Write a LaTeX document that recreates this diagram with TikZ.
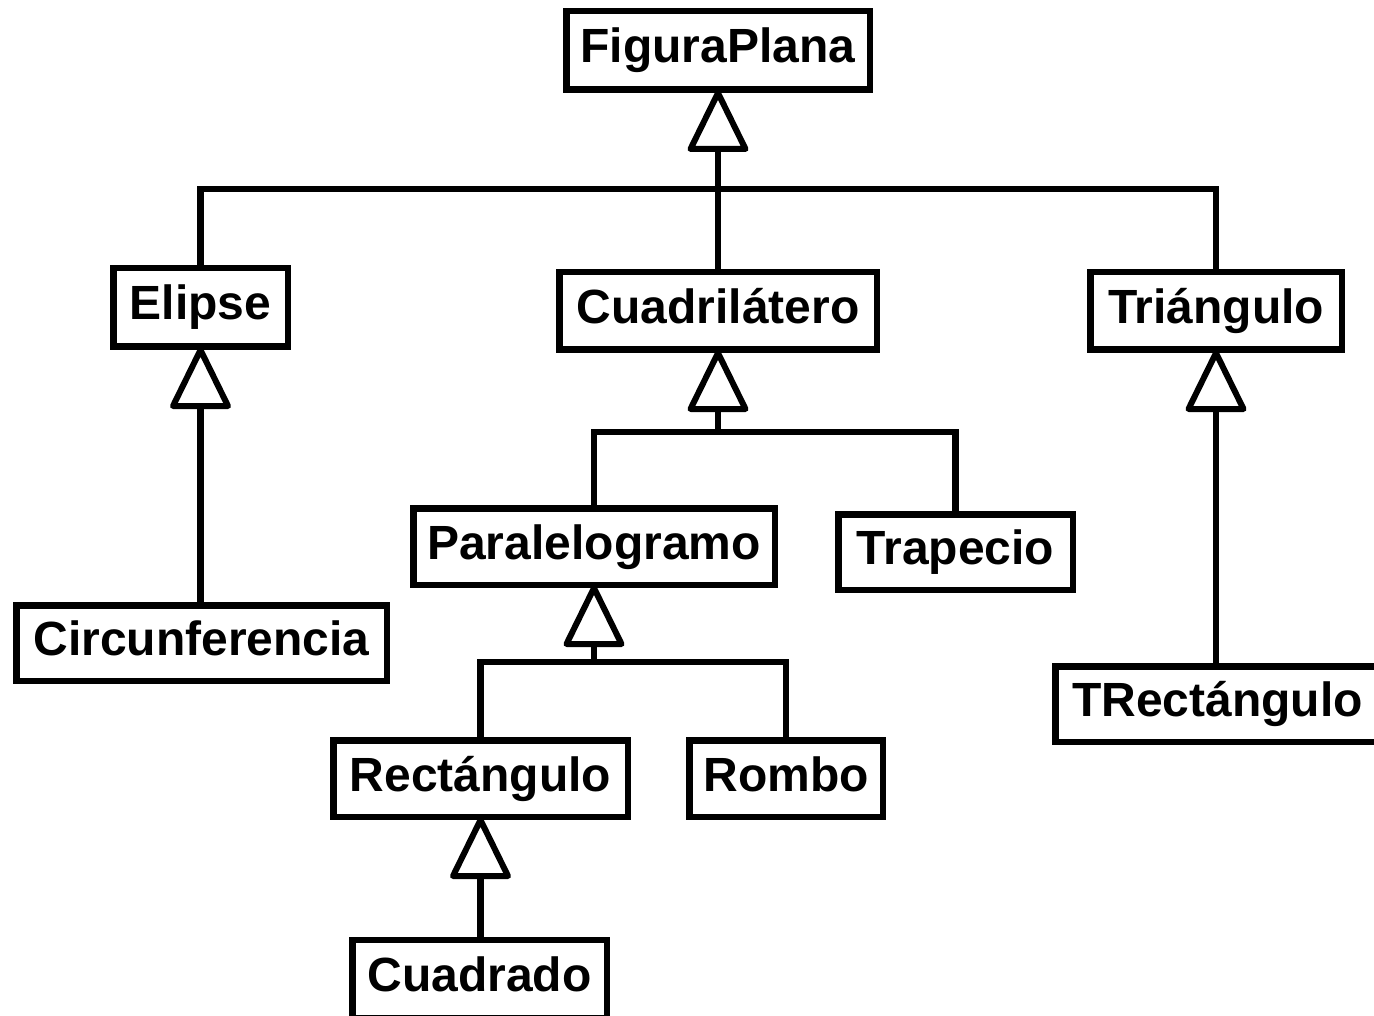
\documentclass[tikz,border=0pt]{standalone}
\usepackage{fontspec}
\setmainfont{Liberation Sans}
\usetikzlibrary{calc}
\begin{document}
\begin{tikzpicture}[x=1pt,y=-1pt,
  cls/.style={draw, line width=6.5pt, fill=white, inner sep=0pt,
    text height=34pt, text depth=9pt,
    font=\fontsize{48}{50}\selectfont\bfseries},
  conn/.style={line width=6.5pt, line join=miter},
  gen/.style={line width=6pt, line join=round, fill=white}]
\path[use as bounding box, fill=white] (0,0) rectangle (1374,1016);

% classes
\node[cls, minimum width=303.5pt, minimum height=78.5pt] (FP)   at (718,50.5)    {FiguraPlana};
\node[cls, minimum width=174.5pt, minimum height=78.5pt] (Eli)  at (200.5,307.5) {Elipse};
\node[cls, minimum width=317.5pt, minimum height=77.5pt] (Cu)   at (718,311)     {Cuadrilátero};
\node[cls, minimum width=251.5pt, minimum height=77.5pt] (Tri)  at (1216,311)    {Triángulo};
\node[cls, minimum width=370.5pt, minimum height=75.5pt] (Circ) at (201.5,643)   {Circunferencia};
\node[cls, minimum width=361.5pt, minimum height=76.5pt] (Par)  at (594,546.5)   {Paralelogramo};
\node[cls, minimum width=234.5pt, minimum height=75.5pt] (Trap) at (955.5,552)   {Trapecio};
\node[cls, minimum width=324.5pt, minimum height=75.5pt] (TRec) at (1217.5,704)  {TRectángulo};
\node[cls, minimum width=294.5pt, minimum height=76.5pt] (Rec)  at (480.5,778.5) {Rectángulo};
\node[cls, minimum width=193.5pt, minimum height=76.5pt] (Rom)  at (786,778.5)   {Rombo};
\node[cls, minimum width=254.5pt, minimum height=78pt]   (Cdo)  at (479.5,978.75){Cuadrado};

% base points of the generalization triangles
\coordinate (tFP)  at ($(FP.south)+(0,56)$);
\coordinate (tEli) at ($(Eli.south)+(0,56)$);
\coordinate (tCu)  at ($(Cu.south)+(0,56)$);
\coordinate (tTri) at ($(Tri.south)+(0,56)$);
\coordinate (tPar) at ($(Par.south)+(0,56)$);
\coordinate (tRec) at ($(Rec.south)+(0,56)$);

% branching points
\coordinate (jFP)  at ($(tFP)+(0,40)$);
\coordinate (jCu)  at ($(tCu)+(0,23)$);
\coordinate (jPar) at ($(tPar)+(0,18)$);

% connectors
\draw[conn] (tFP) -- (Cu.north);
\draw[conn] (Eli.north) |- (jFP) -| (Tri.north);
\draw[conn] (tEli) -- (tEli |- Circ.north);
\draw[conn] (tCu) -- (jCu);
\draw[conn] (Par.north) |- (jCu) -| (Trap.north);
\draw[conn] (tPar) -- (jPar);
\draw[conn] (Rec.north) |- (jPar) -| (Rom.north);
\draw[conn] (tRec) -- (tRec |- Cdo.north);
\draw[conn] (tTri) -- (tTri |- TRec.north);

% open triangles pointing at the parent class
\foreach \p/\t in {FP/tFP, Eli/tEli, Cu/tCu, Tri/tTri, Par/tPar, Rec/tRec}
  \draw[gen] (\p.south) -- ($(\t)+(-27.5,0)$) -- ($(\t)+(27.5,0)$) -- cycle;
\end{tikzpicture}
\end{document}
